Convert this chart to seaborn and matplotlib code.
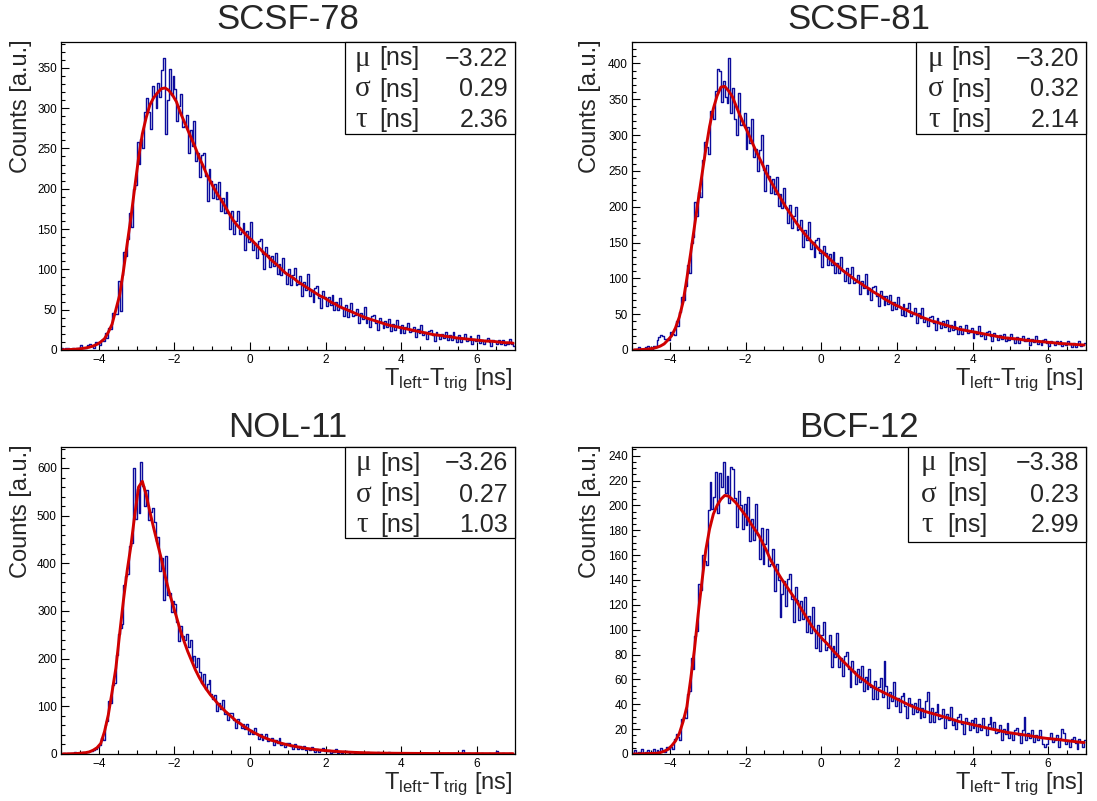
import numpy as np
import pandas as pd
import matplotlib
matplotlib.use("Agg")
import matplotlib.pyplot as plt
import seaborn as sns
from matplotlib.patches import Rectangle
from matplotlib.ticker import MultipleLocator

# ---------------- data ----------------
titles = ["SCSF-78", "SCSF-81", "NOL-11", "BCF-12"]
mu_text = ["\u22123.22", "\u22123.20", "\u22123.26", "\u22123.38"]
sigma_text = ["0.29", "0.32", "0.27", "0.23"]
tau_text = ["2.36", "2.14", "1.03", "2.99"]

x_range = (-5.0, 7.0)
n_hist_bins = 240      # histogram bins of 0.05 ns
n_fit_pts = 120        # fit curve sampled every 0.1 ns

# histogram counts, 0.05 ns bins from -5 to 7 (20 values per ns)
counts_scsf78 = [
    2, 1, 2, 3, 1, 1, 3, 1, 3, 2, 6, 2, 3, 2, 6, 7, 5, 3, 10, 9,
    6, 13, 11, 21, 15, 27, 26, 46, 45, 45, 86, 48, 93, 122, 117, 138, 170, 153, 200, 205,
    258, 231, 262, 250, 295, 312, 295, 274, 327, 318, 300, 331, 314, 347, 362, 268, 310, 349, 316, 340,
    324, 284, 303, 318, 277, 278, 292, 244, 273, 253, 284, 234, 244, 215, 242, 244, 216, 185, 224, 210,
    188, 206, 187, 208, 172, 188, 170, 196, 170, 150, 173, 144, 160, 172, 144, 146, 158, 124, 147, 134,
    159, 124, 133, 114, 135, 138, 119, 100, 128, 118, 103, 117, 104, 120, 94, 107, 93, 114, 95, 82,
    100, 80, 93, 102, 80, 82, 92, 67, 84, 75, 94, 67, 75, 60, 77, 79, 65, 52, 73, 66,
    55, 66, 56, 68, 49, 59, 50, 65, 52, 42, 56, 41, 51, 58, 42, 44, 51, 33, 46, 39,
    53, 34, 40, 29, 42, 44, 34, 25, 40, 35, 27, 36, 29, 38, 24, 32, 25, 37, 28, 21,
    31, 21, 28, 34, 22, 24, 29, 16, 26, 21, 31, 18, 22, 14, 23, 25, 18, 11, 22, 19,
    14, 20, 15, 22, 12, 18, 13, 22, 15, 10, 18, 10, 15, 20, 11, 13, 17, 7, 14, 11,
    19, 9, 12, 7, 13, 15, 10, 5, 13, 11, 7, 12, 8, 13, 6, 10, 7, 14, 8, 5]
# fit curve, sampled at 0.1 ns steps from -4.95 to 6.95
fit_scsf78 = [
    0.3, 0.4, 0.6, 0.9, 1.2, 1.8, 2.5, 3.5, 5, 7,
    10, 14, 22, 32, 50, 68, 98, 132, 165, 202,
    238, 268, 288, 304, 313, 319, 324, 325, 322, 316,
    308, 295, 284, 273, 262, 251, 239, 229, 218, 209,
    200, 192, 185, 177, 169, 161, 155, 150, 145, 140,
    136, 131, 126, 121, 117, 112, 108, 104, 99, 95,
    92, 89, 85, 82, 79, 76, 73, 70, 67, 65,
    62, 59, 57, 54, 52, 50, 48, 46, 44, 42,
    40, 38.5, 37, 35.5, 34, 32.5, 31, 30, 29, 28,
    27, 26, 25, 24, 23, 22, 21, 20, 19, 18.5,
    18, 17, 16.5, 16, 15, 14.5, 14, 13.5, 13, 12.5,
    12, 11.5, 11, 11, 10.5, 10, 9.5, 9, 9, 8.5]

counts_scsf81 = [
    0, 2, 1, 4, 1, 2, 1, 4, 5, 3, 0, 6, 5, 14, 18, 21, 19, 16, 16, 14,
    25, 22, 21, 40, 34, 53, 74, 70, 90, 119, 108, 150, 158, 207, 187, 220, 214, 265, 291, 283,
    273, 334, 334, 323, 362, 392, 389, 346, 375, 353, 345, 408, 331, 366, 322, 300, 359, 314, 315, 331,
    280, 311, 289, 322, 269, 280, 250, 279, 300, 251, 222, 258, 243, 219, 239, 218, 241, 201, 218, 198,
    226, 198, 177, 202, 171, 187, 199, 167, 169, 181, 144, 168, 154, 179, 141, 151, 130, 153, 156, 136,
    116, 145, 135, 118, 134, 119, 137, 108, 122, 108, 130, 110, 96, 115, 93, 106, 116, 93, 95, 105,
    78, 97, 86, 106, 78, 86, 70, 88, 90, 76, 61, 83, 75, 63, 75, 64, 77, 56, 67, 57,
    74, 60, 49, 64, 48, 58, 65, 48, 50, 58, 38, 52, 44, 58, 39, 44, 33, 46, 48, 38,
    28, 44, 39, 31, 40, 32, 42, 27, 35, 28, 40, 30, 22, 33, 22, 29, 35, 24, 25, 31,
    17, 27, 22, 33, 19, 23, 16, 25, 27, 19, 12, 24, 20, 14, 21, 16, 23, 12, 18, 14,
    22, 16, 10, 18, 10, 16, 20, 12, 13, 17, 7, 15, 11, 19, 9, 12, 7, 14, 15, 10,
    5, 13, 11, 7, 12, 8, 13, 6, 10, 7, 13, 8, 4, 10, 4, 8, 12, 6, 7, 10]
fit_scsf81 = [
    0.1, 0.3, 0.6, 1, 1.5, 2.2, 3.5, 5.5, 8.5, 14,
    20, 31, 46, 67, 100, 135, 172, 209, 245, 280,
    312, 337, 355, 367, 368, 362, 354, 341, 328, 316,
    305, 293, 281, 270, 259, 247, 237, 228, 219, 210,
    201, 193, 185, 177, 170, 163, 157, 151, 146, 140,
    136, 131, 126, 121, 117, 112, 108, 104, 100, 96,
    93, 89, 86, 82, 79, 76, 72, 69, 66, 63,
    61, 58, 56, 53, 51, 49, 46, 44, 42, 40,
    39, 37, 35.5, 34, 32, 31, 29, 28, 27, 26,
    25, 24, 23, 22, 21, 20, 19, 18, 17, 16.5,
    16, 15.5, 15, 14, 13.5, 13, 12.5, 12, 11.5, 11,
    10.5, 10, 9.5, 9, 8.7, 8.3, 8, 7.6, 7.3, 7]

counts_nol11 = [
    1, 2, 0, 3, 1, 2, 2, 4, 1, 3, 2, 5, 3, 4, 4, 6, 7, 9, 11, 15,
    19, 34, 30, 60, 70, 112, 108, 144, 149, 208, 252, 265, 273, 354, 373, 378, 437, 443, 600, 492,
    555, 505, 612, 563, 520, 554, 490, 507, 516, 486, 446, 455, 384, 411, 324, 415, 333, 337, 297, 321,
    315, 276, 238, 269, 247, 239, 252, 224, 239, 195, 206, 182, 202, 172, 149, 167, 136, 147, 155, 125,
    115, 123, 91, 108, 95, 114, 83, 88, 71, 87, 87, 71, 55, 74, 66, 54, 63, 52, 63, 43,
    51, 41, 55, 41, 32, 43, 29, 36, 41, 28, 29, 34, 19, 29, 23, 33, 18, 22, 14, 23,
    24, 16, 10, 20, 16, 11, 16, 11, 17, 8, 13, 8, 15, 9, 5, 11, 5, 9, 12, 6,
    6, 9, 2, 7, 5, 10, 3, 5, 2, 6, 7, 4, 0, 5, 4, 2, 4, 2, 5, 1,
    3, 2, 4, 1, 3, 2, 2, 5, 1, 2, 3, 1, 2, 4, 1, 2, 3, 1, 2, 1,
    2, 1, 3, 1, 1, 2, 0, 2, 3, 1, 2, 1, 1, 3, 1, 0, 2, 1, 2, 1,
    1, 2, 1, 0, 2, 1, 1, 3, 2, 1, 0, 1, 9, 1, 1, 2, 1, 0, 1, 2,
    1, 0, 2, 1, 1, 1, 3, 1, 0, 2, 6, 1, 1, 2, 0, 1, 1, 2, 1, 1]
fit_nol11 = [
    0.2, 0.3, 0.5, 0.8, 1.2, 2, 2.8, 4.5, 8, 13,
    22, 47, 82, 130, 180, 252, 322, 385, 438, 502,
    560, 572, 544, 508, 474, 442, 410, 374, 342, 315,
    288, 260, 237, 215, 196, 177, 161, 147, 135, 124,
    115, 105, 97, 89, 82, 75, 68, 63, 57, 52,
    47, 43, 39, 35, 32, 29, 27, 24, 22, 20,
    18, 16.5, 15, 13.5, 12, 11, 10, 9, 8.2, 7.5,
    6.8, 6.2, 5.6, 5, 4.6, 4.2, 3.8, 3.4, 3.1, 2.8,
    2.6, 2.4, 2.2, 2, 1.9, 1.8, 1.7, 1.6, 1.5, 1.45,
    1.4, 1.35, 1.3, 1.25, 1.2, 1.15, 1.1, 1.05, 1.0, 0.98,
    0.96, 0.94, 0.92, 0.9, 0.88, 0.86, 0.84, 0.82, 0.8, 0.79,
    0.78, 0.77, 0.76, 0.75, 0.74, 0.73, 0.72, 0.71, 0.7, 0.7]

counts_bcf12 = [
    1, 3, 0, 2, 1, 4, 0, 2, 3, 1, 2, 4, 1, 3, 2, 5, 3, 2, 6, 4,
    6, 4, 12, 16, 14, 11, 28, 30, 29, 48, 51, 77, 68, 95, 99, 137, 132, 160, 155, 152,
    196, 219, 197, 207, 227, 194, 226, 215, 235, 210, 224, 202, 231, 229, 206, 183, 212, 200, 181, 201,
    184, 207, 171, 189, 172, 201, 176, 157, 182, 153, 169, 181, 151, 153, 165, 131, 153, 140, 110, 129,
    139, 119, 141, 145, 125, 106, 134, 124, 108, 123, 109, 126, 98, 111, 97, 118, 99, 85, 104, 83,
    96, 106, 84, 86, 96, 70, 87, 78, 97, 70, 77, 63, 79, 82, 68, 54, 75, 67, 56, 68,
    58, 71, 51, 62, 52, 68, 54, 44, 59, 44, 54, 61, 46, 75, 55, 37, 50, 43, 58, 39,
    45, 34, 47, 49, 39, 29, 45, 40, 32, 41, 34, 44, 29, 37, 30, 43, 50, 26, 37, 26,
    34, 40, 28, 29, 36, 21, 32, 27, 38, 23, 28, 20, 30, 32, 24, 16, 29, 26, 19, 27,
    21, 29, 18, 24, 19, 29, 21, 15, 24, 30, 21, 26, 17, 18, 23, 11, 20, 16, 25, 13,
    17, 11, 19, 21, 15, 9, 19, 30, 11, 17, 13, 19, 10, 15, 11, 19, 13, 8, 6, 8,
    13, 17, 10, 11, 15, 6, 13, 20, 17, 8, 11, 6, 12, 14, 9, 4, 12, 10, 6, 11]
fit_bcf12 = [
    0, 0.1, 0.2, 0.3, 0.4, 0.5, 0.6, 1.2, 2.2, 3.7,
    6.7, 10.5, 16.5, 26, 38, 60, 84, 113, 139, 164,
    181, 193, 200, 205, 208, 207.5, 205, 202, 198, 194,
    190, 185, 180.5, 176, 170, 164, 157, 151.5, 146, 141,
    136.5, 132, 127.5, 123, 118, 113, 108, 103, 99, 95.5,
    92, 89, 85.5, 82, 79, 75.5, 72.5, 69.5, 66.5, 63.5,
    61, 59, 56.5, 54.5, 52.5, 51, 49.5, 48, 46.5, 45,
    43.5, 42, 40.5, 39, 37.8, 36.5, 35.3, 34.2, 33.3, 32.5,
    31.6, 30.7, 29.8, 29, 28, 27, 26, 25.4, 24.7, 24,
    23.3, 22.6, 21.9, 21.2, 20.5, 19.8, 19.2, 18.5, 17.8, 17.2,
    16.8, 16.3, 15.9, 15.4, 15, 14.5, 14, 13.5, 13, 12.6,
    12.3, 12, 11.7, 11.3, 10.9, 10.5, 10.2, 9.8, 9.5, 9.2]

y_max = [382, 430, 644, 247]
y_major = [50, 50, 100, 20]
y_minor = [10, 10, 20, 5]

all_counts = [counts_scsf78, counts_scsf81, counts_nol11, counts_bcf12]
all_fits = [fit_scsf78, fit_scsf81, fit_nol11, fit_bcf12]

# ---------------- layout (pixels) ----------------
W, H = 1097, 801
BLUE = "#0c0c9c"
RED = "#d00000"

sns.set_theme(style="ticks")
plt.rcParams["font.family"] = ["Liberation Sans", "DejaVu Sans"]
plt.rcParams["mathtext.fontset"] = "custom"
plt.rcParams["mathtext.rm"] = "Liberation Sans"
plt.rcParams["mathtext.it"] = "Liberation Sans:italic"
plt.rcParams["mathtext.bf"] = "Liberation Sans:bold"
plt.rcParams["axes.unicode_minus"] = True


def fx(px):
    return px / W


def fy(py):
    return 1 - py / H


ax_px = [(61, 42, 515, 350), (632, 42, 1086, 350),
         (61, 447, 515, 754), (632, 447, 1086, 754)]
box_px = [(345, 42, 515, 134), (916, 42, 1086, 134),
          (345, 447, 515, 538), (908, 447, 1086, 542)]
greek_off = [10, 12, 11, 13]
ns_off = [34, 35, 35, 39]
title_base = [29, 29, 437, 437]
ylab_x = [21, 590, 21, 590]
ylab_top = [39, 39, 444, 444]
xlab_base = [385, 385, 789, 789]

fig = plt.figure(figsize=(W / 100, H / 100), dpi=100)
fig.patch.set_facecolor("white")

h_edges = np.linspace(x_range[0], x_range[1], n_hist_bins + 1)
h_centers = 0.5 * (h_edges[:-1] + h_edges[1:])
f_edges = np.linspace(x_range[0], x_range[1], n_fit_pts + 1)
f_x = 0.5 * (f_edges[:-1] + f_edges[1:])

for i in range(4):
    l, t, r, b = ax_px[i]
    ax = fig.add_axes([fx(l), fy(b), (r - l) / W, (b - t) / H])
    ax.set_facecolor("white")
    hdf = pd.DataFrame({"t": h_centers, "n": np.asarray(all_counts[i], float)})
    fdf = pd.DataFrame({"t": f_x, "f": np.asarray(all_fits[i], float)})
    sns.histplot(data=hdf, x="t", weights="n", bins=n_hist_bins, binrange=x_range,
                 element="step", fill=False, color=BLUE, linewidth=1.0, ax=ax)
    sns.lineplot(data=fdf, x="t", y="f", color=RED, linewidth=2.1, ax=ax)
    ax.set_xlim(*x_range)
    ax.set_ylim(0, y_max[i])
    ax.set_xlabel("")
    ax.set_ylabel("")
    ax.xaxis.set_major_locator(MultipleLocator(2))
    ax.xaxis.set_minor_locator(MultipleLocator(0.5))
    ax.yaxis.set_major_locator(MultipleLocator(y_major[i]))
    ax.yaxis.set_minor_locator(MultipleLocator(y_minor[i]))
    ax.tick_params(which="both", direction="in", top=False, right=False,
                   labelsize=8.5, colors="black", width=0.8)
    ax.tick_params(which="major", length=5.5, pad=3)
    ax.tick_params(which="minor", length=3.2)
    for s in ax.spines.values():
        s.set_color("black")
        s.set_linewidth(0.9)
        s.set_visible(True)
    ax.grid(False)

    fig.text(fx((l + r) / 2), fy(title_base[i]), titles[i], fontsize=25,
             ha="center", va="baseline")
    fig.text(fx(ylab_x[i]), fy(ylab_top[i]), "Counts [a.u.]", rotation=90,
             fontsize=17, ha="center", va="top")
    fig.text(fx(r - 3), fy(xlab_base[i]),
             r"T$_{\mathrm{left}}$-T$_{\mathrm{trig}}$ [ns]",
             fontsize=17, ha="right", va="baseline")

    bl, bt, br, bb = box_px[i]
    fig.add_artist(Rectangle((fx(bl), fy(bb)), (br - bl) / W, (bb - bt) / H,
                             transform=fig.transFigure, facecolor="white",
                             edgecolor="black", linewidth=0.9, zorder=5))
    rows = [("\u03bc", mu_text[i]), ("\u03c3", sigma_text[i]), ("\u03c4", tau_text[i])]
    for k, (g, v) in enumerate(rows):
        yb = fy(bt + [23.5, 54.5, 85][k])
        fig.text(fx(bl + greek_off[i]), yb, g, fontsize=21, ha="left",
                 va="baseline", family=["Liberation Serif", "DejaVu Serif"], zorder=6)
        fig.text(fx(bl + ns_off[i]), yb, "[ns]", fontsize=18, ha="left",
                 va="baseline", zorder=6)
        fig.text(fx(br - 7), yb, v, fontsize=18, ha="right", va="baseline", zorder=6)

fig.savefig("out.png", dpi=100, facecolor="white")
